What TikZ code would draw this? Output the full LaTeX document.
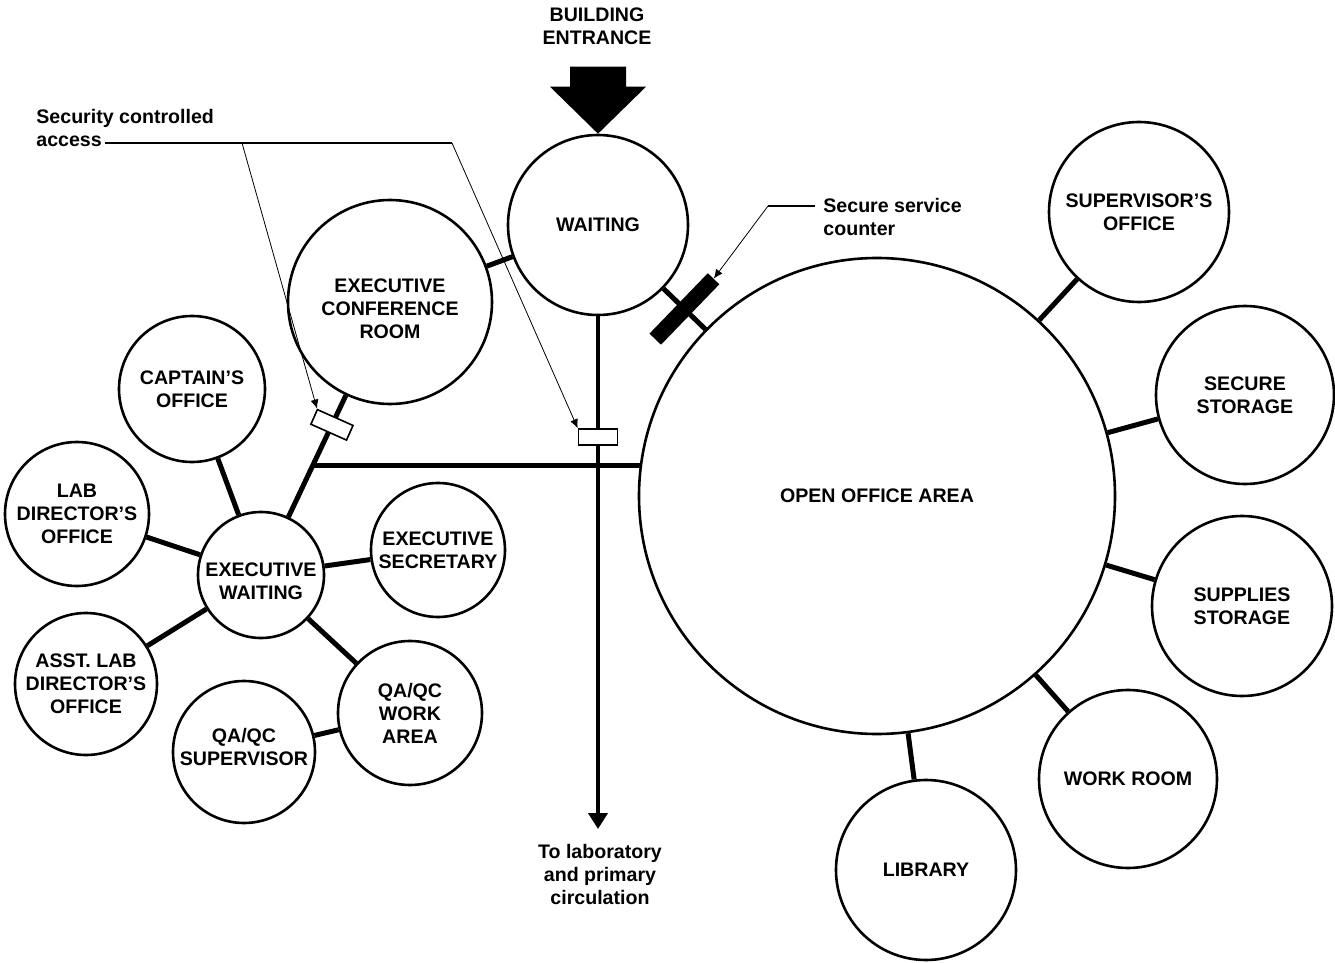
\documentclass[tikz,border=0pt]{standalone}
\usepackage{fontspec}
\setmainfont{Liberation Sans}
\usetikzlibrary{calc,arrows.meta}
\newcommand\lblfont{\fontsize{9.8}{11.5}\selectfont\bfseries}
\begin{document}
\begin{tikzpicture}[x=0.5pt,y=-0.5pt,
  room/.style={circle,draw,line width=1.3pt,inner sep=0pt,minimum size=#1,align=center,font=\lblfont},
  roomlabel/.style={font=\lblfont,align=center,inner sep=0pt},
  link/.style={line width=2.5pt},
  corr/.style={line width=2.1pt},
  lead/.style={line width=0.4pt},
  leadbar/.style={line width=0.9pt},
  tip/.style={-{Latex[length=4.5pt,width=4pt]}},
  gate/.style={draw,fill=white,line width=0.8pt,minimum width=19.5pt,minimum height=8pt,inner sep=0pt},
  counterbar/.style={fill=black,minimum width=42pt,minimum height=8pt,inner sep=0pt},
  note/.style={font=\lblfont,align=left,inner sep=0pt},
  caption/.style={font=\lblfont,align=center,inner sep=0pt}]
\useasboundingbox (0,0) rectangle (1335,963);

% rooms
\node[room=90pt]  (wait) at (598,225)  {WAITING};
\node[room=102pt,label={[roomlabel,yshift=-3.5pt]center:{EXECUTIVE\\CONFERENCE\\ROOM}}] (ecr) at (390,302) {};
\node[room=73pt]  (cap)  at (192,389)  {CAPTAIN’S\\OFFICE};
\node[room=72pt]  (lab)  at (77,514)   {LAB\\DIRECTOR’S\\OFFICE};
\node[room=63pt,label={[roomlabel,yshift=-3pt]center:{EXECUTIVE\\WAITING}}] (ew) at (261,575) {};
\node[room=67pt]  (sec)  at (438,550)  {EXECUTIVE\\SECRETARY};
\node[room=71pt]  (asst) at (86,684)   {ASST. LAB\\DIRECTOR’S\\OFFICE};
\node[room=71pt,label={[roomlabel,yshift=2.5pt]center:{QA/QC\\SUPERVISOR}}] (qas) at (244,752) {};
\node[room=72pt]  (qaw)  at (410,713)  {QA/QC\\WORK\\AREA};
\node[room=238pt] (ooa)  at (877,496)  {OPEN OFFICE AREA};
\node[room=90pt]  (sup)  at (1139,212) {SUPERVISOR’S\\OFFICE};
\node[room=89pt]  (ss)   at (1245,395) {SECURE\\STORAGE};
\node[room=90pt]  (sps)  at (1242,606) {SUPPLIES\\STORAGE};
\node[room=89pt]  (wr)   at (1128,779) {WORK ROOM};
\node[room=90pt]  (lib)  at (926,870)  {LIBRARY};

% room-to-room links
\draw[link] (ew) -- (cap);
\draw[link] (ew) -- (lab);
\draw[link] (ew) -- (asst);
\draw[link] (ew) -- (sec);
\draw[link] (ew) -- (qaw);
\draw[link] (qaw) -- (qas);
\draw[link] (wait) -- (ecr);
\draw[link] (wait) -- (ooa);
\draw[link] (ooa) -- (sup);
\draw[link] (ooa) -- (ss);
\draw[link] (ooa) -- (sps);
\draw[link] (ooa) -- (wr);
\draw[link] (ooa) -- (lib);

% circulation spine
\coordinate (j1) at ($(ew.center)!0.40!(ecr.center)$);
\coordinate (g1pos) at ($(ew.center)!0.55!(ecr.center)$);
\draw[link] (ew) -- (ecr);
\draw[link] (j1) -- (j1 -| ooa.172.8);
\coordinate (exit) at (598,829);
\draw[corr,-{Triangle[length=8pt,width=9.5pt]}] (wait) -- (exit);

% building entrance arrow
\node[caption] (entr) at (597,26) {BUILDING\\ENTRANCE};
\fill (wait.north) -- ++(-48,-47) -- ++(20,0) -- ++(0,-20) -- ++(56,0)
      -- ++(0,20) -- ++(20,0) -- cycle;

% security controlled access points
\node[gate,rotate=-24] (g1) at (g1pos) {};
\node[gate] (g2) at (598,437) {};
\node[note,anchor=west] (sca) at (36,128) {Security controlled\\access};
\coordinate (l0) at (105,143);
\coordinate (l1) at (242,143);
\coordinate (l2) at (452,143);
\draw[leadbar] (l0) -- (l2);
\draw[lead,tip] (l1) -- (g1.north west);
\draw[lead,tip] (l2) -- (g2.north west);

% secure service counter
\path (wait) -- (ooa) coordinate[pos=0.5] (cm);
\node[counterbar,rotate=46] (ctr) at (cm) {};
\node[note,anchor=west] (ssc) at (823,217) {Secure service\\counter};
\coordinate (c0) at (815,206);
\coordinate (c1) at (768,206);
\draw[leadbar] (c0) -- (c1);
\draw[lead,tip] (c1) -- (ctr.east);

% exit label
\node[caption] (lablink) at (600,874) {To laboratory\\and primary\\circulation};
\end{tikzpicture}
\end{document}
